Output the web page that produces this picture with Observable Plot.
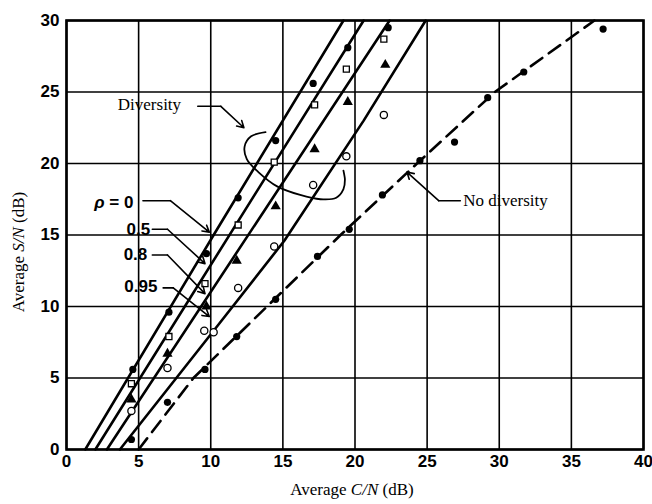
<!DOCTYPE html>
<html><head><meta charset="utf-8">
<script src="https://cdn.jsdelivr.net/npm/d3@7"></script>
<script src="https://cdn.jsdelivr.net/npm/@observablehq/plot@0.6"></script>
<style>body{margin:0;background:#fff}</style>
</head><body><div id="chart"></div>
<script>
// ---- axis ticks ----
const xTicks = [0, 5, 10, 15, 20, 25, 30, 35, 40];
const yTicks = [0, 5, 10, 15, 20, 25, 30];

// ---- curves [C/N, S/N] ----
const lineRho0   = [[1.3, 0], [10.2, 15], [19.2, 30]];
const lineRho05  = [[2.0, 0], [20.6, 30]];
const lineRho08  = [[2.8, 0], [22.4, 30]];
const lineRho095 = [[3.7, 0], [10.2, 8.3], [15.1, 14.6], [20.6, 23.0], [24.9, 30]];
const lineNoDiv  = [[5.0, 0], [8.8, 5], [13.9, 10], [19.0, 15], [24.3, 20], [29.7, 25], [36.6, 30]];

// ---- measured points ----
const ptsRho0   = [[4.6, 5.6], [7.1, 9.6], [9.7, 13.7], [11.9, 17.6], [14.5, 21.6], [17.1, 25.6], [19.5, 28.1], [22.3, 29.5]];
const ptsRho05  = [[4.5, 4.6], [7.1, 7.9], [9.6, 11.6], [11.9, 15.7], [14.4, 20.1], [17.2, 24.1], [19.4, 26.6], [22.0, 28.7]];
const ptsRho08  = [[4.5, 3.5], [7.0, 6.7], [9.7, 10.0], [11.8, 13.2], [14.5, 17.0], [17.2, 21.0], [19.5, 24.3], [22.1, 26.9]];
const ptsRho095 = [[4.5, 2.7], [7.0, 5.7], [9.55, 8.3], [10.2, 8.2], [11.9, 11.3], [14.4, 14.2], [17.1, 18.5], [19.4, 20.5], [22.0, 23.4]];
const ptsNoDiv  = [[4.5, 0.7], [7.0, 3.3], [9.6, 5.6], [11.8, 7.9], [14.5, 10.5], [17.4, 13.5], [19.6, 15.4], [21.9, 17.8], [24.5, 20.2], [26.9, 21.5], [29.2, 24.6], [31.7, 26.4], [37.2, 29.4]];

// ---- annotation labels ----
const rhoLabels = ["ρ = 0", "0.5", "0.8", "0.95"];
const rhoLabelPos = [[4.64, 17.3], [5.8, 15.35], [5.6, 13.6], [6.3, 11.4]];
const rhoLeaderH = [[[5.3, 17.4], [7.2, 17.4]], [[5.95, 15.4], [7.0, 15.4]], [[5.95, 13.6], [7.0, 13.6]], [[6.7, 11.3], [7.4, 11.3]]];
const rhoArrowTo = [[9.9, 15.2], [9.6, 13.0], [9.6, 10.9], [9.9, 9.3]];
const diversityLabel = "Diversity";
const diversityPos = [5.75, 24.1];
const diversityLeader = [[9.1, 24.0], [10.7, 24.0]];
const diversityArrowTo = [12.3, 22.5];
const diversityBrace = [[13.8, 22.2], [12.8, 21.9], [12.35, 21.2], [12.5, 20.3], [13.3, 19.4], [14.6, 18.4], [16.2, 17.8], [17.6, 17.5], [18.7, 17.6], [19.2, 18.2], [19.3, 18.9], [19.2, 19.5]];
const noDivLabel = "No diversity";
const noDivPos = [27.5, 17.4];
const noDivLeader = [[27.3, 17.4], [25.8, 17.4]];
const noDivArrowTo = [23.6, 19.4];

const X = d => d[0], Y = d => d[1];
const sans = "'Liberation Sans Narrow','Liberation Sans',Arial,sans-serif";
const serif = "'Liberation Serif','Times New Roman',serif";

const solid = (data) => Plot.line(data, {x: X, y: Y, stroke: "#000", strokeWidth: 2.6});

const chart = Plot.plot({
  width: 652, height: 504,
  marginLeft: 66, marginRight: 9, marginTop: 20, marginBottom: 55,
  x: {domain: [0, 40]},
  y: {domain: [0, 30]},
  style: {fontFamily: sans, fontSize: "16px", color: "#000", background: "#fff"},
  marks: [
    Plot.gridX(xTicks, {stroke: "#000", strokeOpacity: 1, strokeWidth: 1.6}),
    Plot.gridY(yTicks, {stroke: "#000", strokeOpacity: 1, strokeWidth: 1.6}),
    Plot.axisX(xTicks, {tickSize: 0, tickPadding: 5, label: null, fontWeight: "bold", fontSize: 17}),
    Plot.axisY(yTicks, {tickSize: 0, tickPadding: 7, label: null, fontWeight: "bold", fontSize: 17}),
    solid(lineRho0), solid(lineRho05), solid(lineRho08), solid(lineRho095),
    Plot.line(lineNoDiv, {x: X, y: Y, stroke: "#000", strokeWidth: 2.6, strokeDasharray: "14,8"}),
    Plot.dot(ptsRho0, {x: X, y: Y, r: 3.6, fill: "#000", symbol: "circle"}),
    Plot.dot(ptsRho05, {x: X, y: Y, r: 3.4, fill: "#fff", stroke: "#000", strokeWidth: 1.3, symbol: "square"}),
    Plot.dot(ptsRho08, {x: X, y: Y, r: 3.8, fill: "#000", symbol: "triangle"}),
    Plot.dot(ptsRho095, {x: X, y: Y, r: 3.6, fill: "#fff", stroke: "#000", strokeWidth: 1.3, symbol: "circle"}),
    Plot.dot(ptsNoDiv, {x: X, y: Y, r: 3.6, fill: "#000", symbol: "circle"}),
    // rho labels + leaders
    Plot.text(rhoLabels, {x: (d, i) => rhoLabelPos[i][0], y: (d, i) => rhoLabelPos[i][1], text: d => d, textAnchor: "end", fontWeight: "bold", fontSize: 17, fontFamily: sans}),
    ...rhoLeaderH.map(seg => Plot.line(seg, {x: X, y: Y, stroke: "#000", strokeWidth: 1.6})),
    Plot.arrow(rhoLeaderH, {x1: d => d[1][0], y1: d => d[1][1], x2: (d, i) => rhoArrowTo[i][0], y2: (d, i) => rhoArrowTo[i][1], stroke: "#000", strokeWidth: 1.6, headLength: 7}),
    // diversity label
    Plot.text([diversityLabel], {x: diversityPos[0], y: diversityPos[1], text: d => d, fontFamily: serif, fontSize: 17}),
    Plot.line(diversityLeader, {x: X, y: Y, stroke: "#000", strokeWidth: 1.6}),
    Plot.arrow([diversityLeader], {x1: d => d[1][0], y1: d => d[1][1], x2: diversityArrowTo[0], y2: diversityArrowTo[1], stroke: "#000", strokeWidth: 1.6, headLength: 7}),
    Plot.line(diversityBrace, {x: X, y: Y, stroke: "#000", strokeWidth: 1.8, curve: "catmull-rom"}),
    // no diversity label
    Plot.text([noDivLabel], {x: noDivPos[0], y: noDivPos[1], text: d => d, textAnchor: "start", fontFamily: serif, fontSize: 17}),
    Plot.line(noDivLeader, {x: X, y: Y, stroke: "#000", strokeWidth: 1.6}),
    Plot.arrow([noDivLeader], {x1: d => d[1][0], y1: d => d[1][1], x2: noDivArrowTo[0], y2: noDivArrowTo[1], stroke: "#000", strokeWidth: 1.6, headLength: 7}),
    Plot.frame({stroke: "#000", strokeWidth: 2.6})
  ]
});

const svg = d3.select(chart);
// italic rho
svg.selectAll("text").filter(function () { return this.textContent === "ρ = 0"; }).each(function () {
  const t = d3.select(this);
  t.text(null);
  t.append("tspan").attr("font-style", "italic").text("ρ");
  t.append("tspan").text(" = 0");
});
const xl = svg.append("text").attr("x", 352).attr("y", 495).attr("text-anchor", "middle")
  .attr("font-family", serif).attr("font-size", 17).attr("fill", "#000");
xl.append("tspan").text("Average ");
xl.append("tspan").attr("font-style", "italic").text("C/N");
xl.append("tspan").text(" (dB)");
const yl = svg.append("text").attr("transform", "translate(24,252) rotate(-90)").attr("text-anchor", "middle")
  .attr("font-family", serif).attr("font-size", 17).attr("fill", "#000");
yl.append("tspan").text("Average ");
yl.append("tspan").attr("font-style", "italic").text("S/N");
yl.append("tspan").text(" (dB)");

document.getElementById("chart").appendChild(chart);
</script>
</body></html>
